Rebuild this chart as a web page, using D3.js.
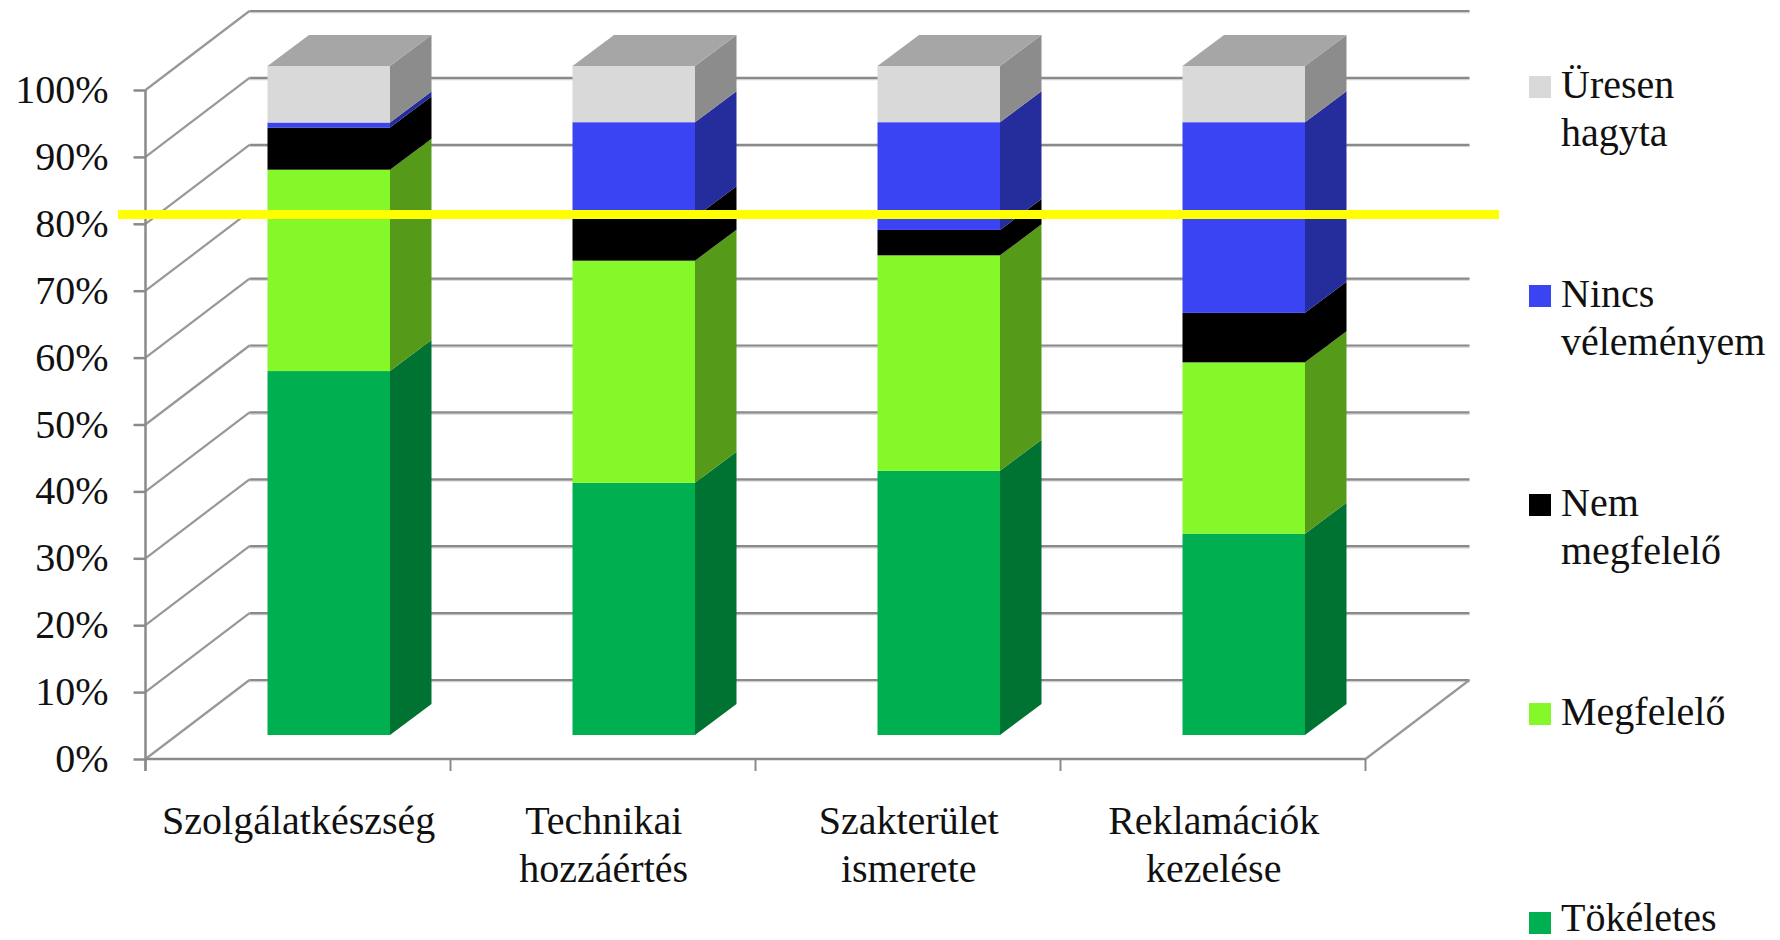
<html>
<head>
<meta charset="utf-8">
<script src="https://d3js.org/d3.v7.min.js"></script>
<style>
  body { margin: 0; background: #fff; }
  text { font-family: "Liberation Serif", serif; font-size: 40px; fill: #111; }
</style>
</head>
<body>
<script>
// chart values
var categories = ["Szolgálatkészség", "Technikai hozzáértés", "Szakterület ismerete", "Reklamációk kezelése"];
var categoryLines = [["Szolgálatkészség"], ["Technikai", "hozzáértés"], ["Szakterület", "ismerete"], ["Reklamációk", "kezelése"]];
var seriesNames = ["Tökéletes", "Megfelelő", "Nem megfelelő", "Nincs vélemény", "Üresen hagyta"];
var legendLines = [["Tökéletes"], ["Megfelelő"], ["Nem", "megfelelő"], ["Nincs", "véleményem"], ["Üresen", "hagyta"]];
var tokeletes = [54.4, 37.7, 39.5, 30.1];
var megfelelo = [30.1, 33.2, 32.2, 25.6];
var nemMegfelelo = [6.3, 6.5, 3.8, 7.4];
var nincsVelemeny = [0.75, 14.2, 16.1, 28.5];
var uresen = [8.45, 8.4, 8.4, 8.4];
var yTicks = [0, 10, 20, 30, 40, 50, 60, 70, 80, 90, 100];
var targetLine = 81.4;

var frontColors = ["#00b050", "#84f829", "#000000", "#3a44f2", "#d9d9d9"];
var sideColors = ["#007232", "#569a1a", "#000000", "#252c9c", "#8c8c8c"];
var topColor = "#a6a6a6";

var svg = d3.select("body").append("svg")
  .attr("width", 1780)
  .attr("height", 940);

//scales. wall plane, and the plane of the bar fronts which sits 24px higher
var x = d3.scaleBand().domain(categories).range([145.5, 1365.5]);
var y = d3.scaleLinear().domain([0, 100]).range([759, 90]);
var yBar = d3.scaleLinear().domain([0, 100]).range([735, 66]);
var wallDx = 104, wallDy = 79;
var barDx = 41.5, barDy = 31;
var barOffset = 122, barWidth = 122.5;

var rows = categories.map(function (c, i) {
  return { cat: c, s0: tokeletes[i], s1: megfelelo[i], s2: nemMegfelelo[i], s3: nincsVelemeny[i], s4: uresen[i] };
});
var stacked = d3.stack().keys(["s0", "s1", "s2", "s3", "s4"])(rows);

//back wall gridlines
svg.selectAll("line.grid-light").data(yTicks).enter().append("line")
  .attr("x1", x.range()[0] + wallDx)
  .attr("x2", x.range()[1] + wallDx)
  .attr("y1", function (d) { return y(d) - wallDy + 1.5; })
  .attr("y2", function (d) { return y(d) - wallDy + 1.5; })
  .attr("stroke", "#d0d0d0")
  .attr("stroke-width", 1.5);
svg.selectAll("line.grid").data(yTicks).enter().append("line")
  .attr("x1", x.range()[0] + wallDx)
  .attr("x2", x.range()[1] + wallDx)
  .attr("y1", function (d) { return y(d) - wallDy; })
  .attr("y2", function (d) { return y(d) - wallDy; })
  .attr("stroke", "#8a8a8a")
  .attr("stroke-width", 2.2);

//left wall diagonals
svg.selectAll("line.diag").data(yTicks).enter().append("line")
  .attr("x1", x.range()[0])
  .attr("x2", x.range()[0] + wallDx)
  .attr("y1", function (d) { return y(d); })
  .attr("y2", function (d) { return y(d) - wallDy; })
  .attr("stroke", "#989898")
  .attr("stroke-width", 2.2);

//floor right edge
svg.append("line")
  .attr("x1", x.range()[1])
  .attr("x2", x.range()[1] + wallDx)
  .attr("y1", y(0))
  .attr("y2", y(0) - wallDy)
  .attr("stroke", "#989898")
  .attr("stroke-width", 2.2);

//bars
var bars = svg.selectAll("g.bar").data(categories).enter().append("g").attr("class", "bar");
bars.each(function (cat, i) {
  var g = d3.select(this);
  var x0 = x(cat) + barOffset, x1 = x0 + barWidth;
  stacked.forEach(function (layer, k) {
    var yLow = yBar(layer[i][0]), yHigh = yBar(layer[i][1]);
    //side face
    g.append("path")
      .attr("d", d3.line()([[x1, yLow], [x1 + barDx, yLow - barDy], [x1 + barDx, yHigh - barDy], [x1, yHigh]]) + "Z")
      .attr("fill", sideColors[k]);
    //front face
    g.append("rect")
      .attr("x", x0)
      .attr("y", yHigh)
      .attr("width", barWidth)
      .attr("height", yLow - yHigh)
      .attr("fill", frontColors[k]);
  });
  //top face
  var t = yBar(100);
  g.append("path")
    .attr("d", d3.line()([[x0, t], [x1, t], [x1 + barDx, t - barDy], [x0 + barDx, t - barDy]]) + "Z")
    .attr("fill", topColor);
});

//y axis
var yAxis = svg.append("g")
  .attr("transform", "translate(" + x.range()[0] + ",0)")
  .call(d3.axisLeft(y).tickValues(yTicks).tickSize(12).tickPadding(25).tickFormat(function (d) { return d + "%"; }));
yAxis.selectAll("line").attr("stroke", "#8a8a8a").attr("stroke-width", 2.5);
yAxis.select(".domain").attr("stroke", "#8a8a8a").attr("stroke-width", 2.5).attr("d", "M0," + y(100) + "V" + (y(0) + 12));
yAxis.selectAll("text")
  .attr("dy", 12.5)
  .style("font-family", '"Liberation Serif", serif')
  .style("font-size", "40px")
  .attr("fill", "#111");

//x axis, ticks sit between the categories
var xEdges = categories.map(function (c) { return x(c); }).concat([x.range()[1]]);
svg.append("line")
  .attr("x1", x.range()[0])
  .attr("x2", x.range()[1])
  .attr("y1", y(0))
  .attr("y2", y(0))
  .attr("stroke", "#8a8a8a")
  .attr("stroke-width", 2.5);
svg.selectAll("line.xtick").data(xEdges).enter().append("line")
  .attr("x1", function (d) { return d; })
  .attr("x2", function (d) { return d; })
  .attr("y1", y(0))
  .attr("y2", y(0) + 12)
  .attr("stroke", "#8a8a8a")
  .attr("stroke-width", 2);

//x labels
categoryLines.forEach(function (lines, i) {
  svg.selectAll(null).data(lines).enter().append("text")
    .attr("text-anchor", "middle")
    .attr("x", x(categories[i]) + x.bandwidth() / 2 + 0.7)
    .attr("y", function (d, j) { return 833.5 + j * 48.3; })
    .text(function (d) { return d; });
});

//yellow target line
svg.append("line")
  .attr("x1", 118)
  .attr("x2", 1499)
  .attr("y1", y(targetLine))
  .attr("y2", y(targetLine))
  .attr("stroke", "#ffff00")
  .attr("stroke-width", 9);

//legend, top entry is the last series. last text nudged up so its box stays in the page
var legendY = d3.scaleLinear().domain([4, 0]).range([98, 934]);
seriesNames.forEach(function (name, k) {
  svg.append("rect")
    .attr("x", 1529)
    .attr("y", legendY(k) - 22)
    .attr("width", 22)
    .attr("height", 22)
    .attr("fill", frontColors[k]);
  svg.selectAll(null).data(legendLines[k]).enter().append("text")
    .attr("x", 1561)
    .attr("y", function (d, j) { return Math.min(legendY(k), 931) + j * 48.3; })
    .text(function (d) { return d; });
});
</script>
</body>
</html>
